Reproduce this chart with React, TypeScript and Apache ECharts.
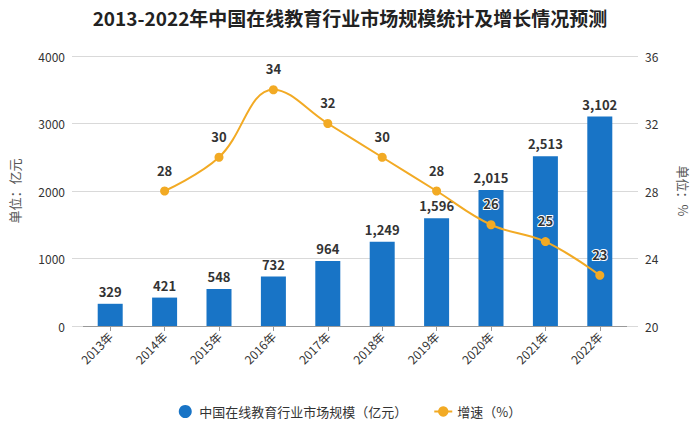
import React, { useEffect, useRef } from "react";
import * as echarts from "echarts";

const categories = ["2013年", "2014年", "2015年", "2016年", "2017年", "2018年", "2019年", "2020年", "2021年", "2022年"];
const marketSize = [329, 421, 548, 732, 964, 1249, 1596, 2015, 2513, 3102];
const growth: (number | null)[] = [null, 28, 30, 34, 32, 30, 28, 26, 25, 23];
const seriesNames = ["中国在线教育行业市场规模（亿元）", "增速（%）"];
const title = "2013-2022年中国在线教育行业市场规模统计及增长情况预测";

const BLUE = "#1874c6";
const ORANGE = "#f2aa24";
const FONT = "'Noto Sans CJK SC', 'Noto Sans', sans-serif";

export default function App() {
  const ref = useRef<HTMLDivElement>(null);
  useEffect(() => {
    if (!ref.current) return;
    const chart = echarts.init(ref.current, undefined, { renderer: "svg" });
    chart.setOption({
      animation: false,
      backgroundColor: "#ffffff",
      textStyle: { fontFamily: FONT },
      title: {
        text: title,
        left: "center",
        top: 3,
        textStyle: { fontSize: 19, fontWeight: "bold", color: "#222", fontFamily: FONT },
      },
      grid: { left: 83, right: 73, top: 56, bottom: 107 },
      legend: {
        bottom: 10,
        left: "center",
        itemGap: 26,
        itemWidth: 18,
        itemHeight: 13,
        textStyle: { fontSize: 13, color: "#333", fontFamily: FONT },
        data: [
          { name: seriesNames[0], icon: "circle" },
          { name: seriesNames[1] },
        ],
      },
      xAxis: {
        type: "category",
        data: categories,
        axisLine: { lineStyle: { color: "#999", width: 1 } },
        axisTick: { show: true, alignWithLabel: true, length: 5, lineStyle: { color: "#999" } },
        axisLabel: { rotate: 45, fontSize: 12, color: "#333", margin: 8 },
      },
      yAxis: [
        {
          type: "value",
          min: 0,
          max: 4000,
          interval: 1000,
          name: "单位：亿元",
          nameLocation: "middle",
          nameGap: 62,
          nameRotate: 90,
          nameTextStyle: { fontSize: 13, color: "#555" },
          axisLine: { show: false },
          axisTick: { show: true, length: 11, lineStyle: { color: "#d9d9d9" } },
          axisLabel: { fontSize: 12, color: "#333", margin: 18, formatter: (v: number) => String(v) },
          splitLine: { lineStyle: { color: "#d9d9d9" } },
        },
        {
          type: "value",
          min: 20,
          max: 36,
          interval: 4,
          name: "单位：%",
          nameLocation: "middle",
          nameGap: 50,
          nameRotate: -90,
          nameTextStyle: { fontSize: 13, color: "#555" },
          axisLine: { show: false },
          axisTick: { show: true, length: 11, lineStyle: { color: "#d9d9d9" } },
          axisLabel: { fontSize: 12, color: "#333", margin: 18 },
          splitLine: { show: false },
        },
      ],
      series: [
        {
          name: seriesNames[0],
          type: "bar",
          data: marketSize,
          barWidth: 25,
          itemStyle: { color: BLUE },
          label: {
            show: true,
            position: "top",
            distance: 6,
            fontSize: 13,
            fontWeight: "bold",
            color: "#333",
            formatter: (p: any) => Number(p.value).toLocaleString("en-US"),
          },
        },
        {
          name: seriesNames[1],
          type: "line",
          yAxisIndex: 1,
          data: growth,
          smooth: 0.4,
          symbol: "circle",
          symbolSize: 9,
          lineStyle: { color: ORANGE, width: 2 },
          itemStyle: { color: ORANGE },
          label: {
            show: true,
            position: "top",
            distance: 10,
            fontSize: 13,
            fontWeight: "bold",
            color: "#333",
            textBorderColor: "#ffffff",
            textBorderWidth: 2,
          },
        },
      ],
    });
    return () => chart.dispose();
  }, []);
  return <div ref={ref} style={{ width: 700, height: 433, position: "absolute", left: 0, top: 0 }} />;
}
